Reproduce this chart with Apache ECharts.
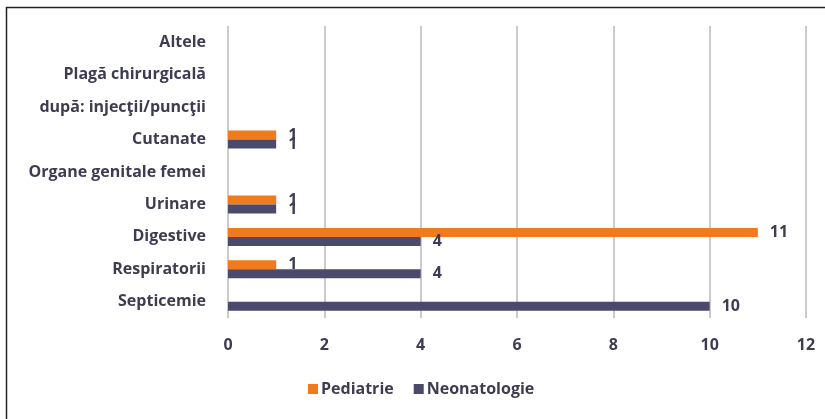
<!DOCTYPE html>
<html>
<head>
<meta charset="utf-8">
<script src="https://cdn.jsdelivr.net/npm/echarts@6/dist/echarts.min.js"></script>
<style>
  html, body { margin: 0; padding: 0; background: #ffffff; }
  #chart { width: 825px; height: 419px; }
</style>
</head>
<body>
<div id="chart"></div>
<script>
// Infection sites, listed bottom to top
const categories = [
  'Septicemie',
  'Respiratorii',
  'Digestive',
  'Urinare',
  'Organe genitale femei',
  'Cutanate',
  'după: injecţii/puncţii',
  'Plagă chirurgicală',
  'Altele'
];
const pediatrie    = [null, 1, 11, 1, null, 1, null, null, null];
const neonatologie = [10, 4, 4, 1, null, 1, null, null, null];
const seriesNames = ['Pediatrie', 'Neonatologie'];
const xTicks = [0, 2, 4, 6, 8, 10, 12];

const textColor = '#3d3c52';
const font = 'Open Sans';
const textStyle = { color: textColor, fontFamily: font, fontSize: 16, fontWeight: 'bold' };

const chart = echarts.init(document.getElementById('chart'));
chart.setOption({
  backgroundColor: '#ffffff',
  animation: false,
  graphic: [{
    type: 'rect',
    shape: { x: 6.5, y: 7.5, width: 840, height: 430 },
    style: { fill: 'none', stroke: '#222', lineWidth: 1.5 },
    silent: true
  }],
  grid: { left: 228, right: 19, top: 26, bottom: 101, containLabel: false },
  legend: {
    data: seriesNames,
    bottom: 17,
    left: 303,
    itemWidth: 10,
    itemHeight: 10,
    itemGap: 20,
    icon: 'rect',
    textStyle: Object.assign({}, textStyle, { padding: [0, 0, 0, -2] })
  },
  xAxis: {
    type: 'value',
    min: xTicks[0],
    max: xTicks[xTicks.length - 1],
    interval: 2,
    axisLine: { show: false },
    axisTick: { show: false },
    axisLabel: Object.assign({}, textStyle, { margin: 19 }),
    splitLine: { show: true, lineStyle: { color: '#bdb8b8', width: 1.5 } }
  },
  yAxis: {
    type: 'category',
    data: categories,
    axisLine: { show: false },
    axisTick: { show: false },
    axisLabel: Object.assign({}, textStyle, { margin: 22 })
  },
  series: [
    {
      name: seriesNames[0],
      type: 'bar',
      data: pediatrie,
      barWidth: 9,
      barGap: '0%',
      itemStyle: { color: '#f07a1c' },
      label: Object.assign({ show: true, position: 'right', distance: 12 }, textStyle)
    },
    {
      name: seriesNames[1],
      type: 'bar',
      data: neonatologie,
      barWidth: 9,
      barGap: '0%',
      itemStyle: { color: '#4b4a6c' },
      label: Object.assign({ show: true, position: 'right', distance: 12 }, textStyle)
    }
  ]
});
</script>
</body>
</html>
